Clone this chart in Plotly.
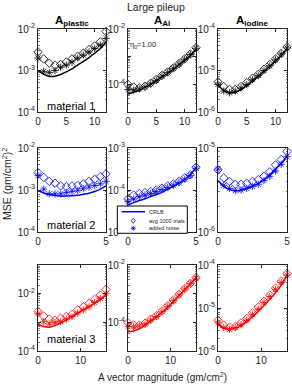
import plotly.graph_objects as go

W, H = 292, 385

# ---------------- data ----------------
x_r1 = [0, 1, 2, 3, 4, 5, 6, 7, 8, 9, 10, 11, 12]
x_r2 = [0, 0.42, 0.83, 1.25, 1.67, 2.08, 2.5, 2.92, 3.33, 3.75, 4.17, 4.58, 5.0]
x_r3 = [0, 1.33, 2.67, 4, 5.33, 6.67, 8, 9.33, 10.67, 12, 13.33, 14.67, 16]

# material 1 (black)
m1_plastic_crlb = [1.0e-3, 8.2e-4, 7.2e-4, 7.3e-4, 8.0e-4, 9.3e-4, 1.1e-3, 1.35e-3, 1.65e-3, 2.05e-3, 2.6e-3, 3.4e-3, 4.8e-3]
m1_plastic_avg = [2.8e-3, 1.9e-3, 1.5e-3, 1.35e-3, 1.4e-3, 1.6e-3, 1.9e-3, 2.2e-3, 2.6e-3, 3.2e-3, 3.9e-3, 4.9e-3, 8.7e-3]
m1_plastic_noise = [2.0e-3, 9.5e-4, 9.0e-4, 1.0e-3, 1.2e-3, 1.35e-3, 1.6e-3, 2.0e-3, 2.35e-3, 2.8e-3, 3.4e-3, 4.1e-3, 5.9e-3]
m1_al_crlb = [4.5e-5, 5.2e-5, 6.2e-5, 7.8e-5, 1.0e-4, 1.35e-4, 1.85e-4, 2.5e-4, 3.5e-4, 5.0e-4, 7.3e-4, 1.1e-3, 1.8e-3]
m1_al_avg = [1.0e-4, 8.0e-5, 7.5e-5, 8.5e-5, 1.1e-4, 1.5e-4, 2.1e-4, 2.8e-4, 3.9e-4, 5.6e-4, 8.3e-4, 1.25e-3, 2.1e-3]
m1_al_noise = [6.5e-5, 6.2e-5, 6.8e-5, 8.0e-5, 1.05e-4, 1.4e-4, 2.0e-4, 2.7e-4, 3.8e-4, 5.4e-4, 8.0e-4, 1.2e-3, 2.0e-3]
m1_iod_crlb = [4.5e-6, 3.3e-6, 2.9e-6, 3.0e-6, 3.5e-6, 4.3e-6, 5.6e-6, 7.2e-6, 9.5e-6, 1.25e-5, 1.7e-5, 2.3e-5, 3.3e-5]
m1_iod_avg = [5.3e-6, 4.1e-6, 3.5e-6, 3.5e-6, 4.1e-6, 5.1e-6, 6.5e-6, 8.1e-6, 1.07e-5, 1.4e-5, 1.9e-5, 2.6e-5, 3.7e-5]
m1_iod_noise = [4.6e-6, 3.2e-6, 2.9e-6, 3.2e-6, 3.8e-6, 4.6e-6, 6.0e-6, 7.6e-6, 1.0e-5, 1.3e-5, 1.8e-5, 2.5e-5, 3.5e-5]

# material 2 (blue)
m2_plastic_crlb = [9.6e-4, 8.5e-4, 7.8e-4, 7.4e-4, 7.2e-4, 7.2e-4, 7.3e-4, 7.5e-4, 7.9e-4, 8.4e-4, 9.2e-4, 1.05e-3, 1.26e-3]
m2_plastic_avg = [2.6e-3, 2.0e-3, 1.6e-3, 1.45e-3, 1.26e-3, 1.2e-3, 1.25e-3, 1.3e-3, 1.4e-3, 1.6e-3, 1.8e-3, 2.1e-3, 2.4e-3]
m2_plastic_noise = [2.2e-3, 1.05e-3, 8.1e-4, 8.1e-4, 8.1e-4, 8.7e-4, 9.2e-4, 9.8e-4, 1.07e-3, 1.17e-3, 1.28e-3, 1.4e-3, 1.6e-3]
m2_al_crlb = [4.4e-5, 5.0e-5, 5.6e-5, 6.2e-5, 7.0e-5, 7.8e-5, 8.8e-5, 1.05e-4, 1.22e-4, 1.45e-4, 1.8e-4, 2.35e-4, 3.4e-4]
m2_al_avg = [6.1e-5, 7.6e-5, 8.3e-5, 8.7e-5, 9.2e-5, 1.0e-4, 1.1e-4, 1.25e-4, 1.4e-4, 1.6e-4, 1.95e-4, 2.3e-4, 3.5e-4]
m2_al_noise = [5.3e-5, 6.1e-5, 6.9e-5, 7.6e-5, 8.3e-5, 9.2e-5, 1.03e-4, 1.15e-4, 1.3e-4, 1.5e-4, 1.8e-4, 2.2e-4, 3.3e-4]
m2_iod_crlb = [4.1e-6, 3.5e-6, 3.2e-6, 3.1e-6, 3.15e-6, 3.3e-6, 3.5e-6, 3.8e-6, 4.2e-6, 4.8e-6, 5.6e-6, 6.6e-6, 8.0e-6]
m2_iod_avg = [5.5e-6, 4.4e-6, 4.0e-6, 3.7e-6, 3.7e-6, 3.8e-6, 4.0e-6, 4.2e-6, 4.6e-6, 5.2e-6, 6.3e-6, 7.3e-6, 9.1e-6]
m2_iod_noise = [5.6e-6, 3.6e-6, 3.3e-6, 3.1e-6, 3.15e-6, 3.3e-6, 3.5e-6, 3.7e-6, 4.1e-6, 4.6e-6, 5.3e-6, 6.4e-6, 7.9e-6]

# material 3 (red)
m3_plastic_crlb = [8.7e-4, 7.2e-4, 6.8e-4, 7.8e-4, 9.5e-4, 1.2e-3, 1.6e-3, 2.1e-3, 2.7e-3, 3.5e-3, 4.7e-3, 6.2e-3, 8.9e-3]
m3_plastic_avg = [2.4e-3, 1.66e-3, 1.3e-3, 1.2e-3, 1.4e-3, 1.6e-3, 1.9e-3, 2.7e-3, 3.5e-3, 4.6e-3, 6.3e-3, 8.9e-3, 1.4e-2]
m3_plastic_noise = [2.0e-3, 1.05e-3, 8.7e-4, 1.0e-3, 1.05e-3, 1.3e-3, 1.6e-3, 2.1e-3, 2.7e-3, 3.5e-3, 4.9e-3, 6.8e-3, 1.0e-2]
m3_al_crlb = [4.7e-5, 5.0e-5, 6.0e-5, 8.0e-5, 1.1e-4, 1.55e-4, 2.2e-4, 3.3e-4, 5.2e-4, 8.5e-4, 1.35e-3, 2.2e-3, 3.5e-3]
m3_al_avg = [9.7e-5, 8.1e-5, 8.0e-5, 9.3e-5, 1.3e-4, 1.7e-4, 2.5e-4, 3.8e-4, 6.0e-4, 9.5e-4, 1.5e-3, 2.3e-3, 3.6e-3]
m3_al_noise = [7.1e-5, 7.0e-5, 7.5e-5, 8.7e-5, 1.2e-4, 1.6e-4, 2.35e-4, 3.6e-4, 5.7e-4, 9.0e-4, 1.45e-3, 2.25e-3, 3.5e-3]
m3_iod_crlb = [4.2e-6, 3.4e-6, 3.2e-6, 3.4e-6, 3.9e-6, 4.8e-6, 6.3e-6, 8.3e-6, 1.15e-5, 1.6e-5, 2.25e-5, 3.4e-5, 5.8e-5]
m3_iod_avg = [5.2e-6, 4.0e-6, 3.6e-6, 3.7e-6, 4.5e-6, 5.7e-6, 7.7e-6, 1.05e-5, 1.44e-5, 2.0e-5, 2.9e-5, 4.2e-5, 6.3e-5]
m3_iod_noise = [4.5e-6, 3.5e-6, 3.2e-6, 3.5e-6, 4.1e-6, 5.2e-6, 7.0e-6, 9.5e-6, 1.35e-5, 1.85e-5, 2.7e-5, 3.9e-5, 5.8e-5]

col_titles = ["<b>A<sub>plastic</sub></b>", "<b>A<sub>Al</sub></b>", "<b>A<sub>iodine</sub></b>"]
row_labels = ["material 1", "material 2", "material 3"]
row_colors = ["#000000", "#0000FF", "#FF0000"]
legend_names = ["CRLB", "avg 1000 trials", "added noise"]

x_ranges = [[0, 12], [0, 5], [0, 16]]
x_ticks = [[0, 5, 10], [0, 5], [0, 10]]
# log10 y ranges per panel
y_ranges = [[[-4, -2], [-5, -2], [-6, -4]],
            [[-4, -2], [-5, -3], [-6, -5]],
            [[-4, -1], [-5, -2], [-6, -4]]]
# labelled decades per panel
y_labelled = [[[-4, -3, -2], [-4, -2], [-6, -5, -4]],
              [[-4, -3, -2], [-5, -4, -3], [-6, -5]],
              [[-4, -2], [-4, -2], [-6, -5, -4]]]

xs = [x_r1, x_r2, x_r3]
data = [
    [(m1_plastic_crlb, m1_plastic_avg, m1_plastic_noise), (m1_al_crlb, m1_al_avg, m1_al_noise), (m1_iod_crlb, m1_iod_avg, m1_iod_noise)],
    [(m2_plastic_crlb, m2_plastic_avg, m2_plastic_noise), (m2_al_crlb, m2_al_avg, m2_al_noise), (m2_iod_crlb, m2_iod_avg, m2_iod_noise)],
    [(m3_plastic_crlb, m3_plastic_avg, m3_plastic_noise), (m3_al_crlb, m3_al_avg, m3_al_noise), (m3_iod_crlb, m3_iod_avg, m3_iod_noise)],
]

# ---------------- layout geometry (pixels) ----------------
cols_px = [(38, 106), (128, 196), (218, 287)]
rows_px = [(29, 112), (148, 232), (265, 351)]


def px(x):
    return x / W


def py(y):
    return 1 - y / H


AX = "#262626"
FONT = "Liberation Sans, Arial, sans-serif"

fig = go.Figure()
layout = dict(width=W, height=H, margin=dict(l=0, r=0, t=0, b=0),
              paper_bgcolor="white", plot_bgcolor="white", showlegend=False,
              template="none", font=dict(family=FONT, color=AX, size=10))

k = 0
for r in range(3):
    for c in range(3):
        k += 1
        xa = "x" if k == 1 else f"x{k}"
        ya = "y" if k == 1 else f"y{k}"
        xkey = "xaxis" if k == 1 else f"xaxis{k}"
        ykey = "yaxis" if k == 1 else f"yaxis{k}"
        lo, hi = y_ranges[r][c]
        decades = list(range(lo, hi + 1))
        tv = [10.0 ** d for d in decades]
        tt = [f"10<sup>{d}</sup>" if d in y_labelled[r][c] else "" for d in decades]
        minor_v = [m * 10.0 ** d for d in range(lo, hi) for m in range(2, 10)]
        layout[xkey] = dict(domain=[px(cols_px[c][0]), px(cols_px[c][1])], anchor=ya,
                            range=x_ranges[r], tickvals=x_ticks[r], ticktext=[str(v) for v in x_ticks[r]],
                            showline=True, linecolor=AX, linewidth=1, mirror="ticks",
                            ticks="inside", ticklen=3, tickcolor=AX, tickwidth=1,
                            showgrid=False, zeroline=False, automargin=False,
                            tickfont=dict(size=10, color=AX, family=FONT))
        layout[ykey] = dict(domain=[py(rows_px[r][1]), py(rows_px[r][0])], anchor=xa,
                            type="log", range=[lo, hi], tickvals=tv, ticktext=tt,
                            showline=True, linecolor=AX, linewidth=1, mirror="ticks",
                            ticks="inside", ticklen=3, tickcolor=AX, tickwidth=1,
                            minor=dict(tickmode="array", tickvals=minor_v, ticks="inside",
                                       ticklen=1.5, tickcolor=AX, tickwidth=0.6, showgrid=False),
                            showgrid=False, zeroline=False, automargin=False,
                            tickfont=dict(size=10, color=AX, family=FONT))
        col = row_colors[r]
        crlb, avg, noise = data[r][c]
        fig.add_trace(go.Scatter(x=xs[r], y=crlb, mode="lines", line=dict(color=col, width=1.5, shape="spline"),
                                 xaxis=xa, yaxis=ya, name=legend_names[0], cliponaxis=False))
        fig.add_trace(go.Scatter(x=xs[r], y=avg, mode="markers",
                                 marker=dict(symbol="diamond-open", size=6.5, color=col, line=dict(color=col, width=0.8)),
                                 xaxis=xa, yaxis=ya, name=legend_names[1], cliponaxis=False))
        fig.add_trace(go.Scatter(x=xs[r], y=noise, mode="markers",
                                 marker=dict(symbol="asterisk-open", size=6, color=col, line=dict(color=col, width=0.8)),
                                 xaxis=xa, yaxis=ya, name=legend_names[2], cliponaxis=False))

annotations = []
# main title
annotations.append(dict(text="Large pileup", x=px(155.5), y=py(7), xref="paper", yref="paper",
                        showarrow=False, font=dict(size=10.5, color=AX, family=FONT), xanchor="center", yanchor="middle"))
# column titles
for c in range(3):
    cx = (cols_px[c][0] + cols_px[c][1]) / 2
    annotations.append(dict(text=col_titles[c], x=px(cx), y=py(21), xref="paper", yref="paper",
                            showarrow=False, font=dict(size=11.5, color="#000000", family=FONT),
                            xanchor="center", yanchor="middle"))
# material labels
mat_y = [106, 225, 339]
for r in range(3):
    annotations.append(dict(text=row_labels[r], x=px(45), y=py(mat_y[r]), xref="paper", yref="paper",
                            showarrow=False, font=dict(size=11, color="#000000", family=FONT),
                            xanchor="left", yanchor="middle"))
# eta label
annotations.append(dict(text="\u03b7<sub>0</sub>=1.00", x=px(128), y=py(45), xref="paper", yref="paper",
                        showarrow=False, font=dict(size=7.5, color=AX, family=FONT), xanchor="left", yanchor="middle"))
# axis titles
annotations.append(dict(text="A vector magnitude (gm/cm<sup>2</sup>)", x=px(162), y=py(377), xref="paper", yref="paper",
                        showarrow=False, font=dict(size=10, color=AX, family=FONT), xanchor="center", yanchor="middle"))
annotations.append(dict(text="MSE (gm/cm<sup>2</sup>)<sup>2</sup>", x=px(7), y=py(184), xref="paper", yref="paper",
                        showarrow=False, textangle=-90, font=dict(size=10.5, color=AX, family=FONT),
                        xanchor="center", yanchor="middle"))

# manual legend (in the material-2 / A_Al panel)
shapes = []
lx0, lx1, ly0, ly1 = 117.3, 187.3, 206, 233.3
shapes.append(dict(type="rect", xref="paper", yref="paper", x0=px(lx0), x1=px(lx1), y0=py(ly1), y1=py(ly0),
                   fillcolor="white", line=dict(color="#000000", width=1), layer="above"))
lc = row_colors[1]
shapes.append(dict(type="line", xref="paper", yref="paper", x0=px(121.7), x1=px(145), y0=py(211.7), y1=py(211.7),
                   line=dict(color=lc, width=1.5), layer="above"))
cx, cy, s = 133.3, 220.7, 2.6
shapes.append(dict(type="path", xref="paper", yref="paper",
                   path=f"M {px(cx)},{py(cy - s)} L {px(cx + s * 0.8)},{py(cy)} L {px(cx)},{py(cy + s)} L {px(cx - s * 0.8)},{py(cy)} Z",
                   line=dict(color=lc, width=0.8), layer="above"))
cx, cy, s = 133.3, 228.3, 2.4
ast = (f"M {px(cx - s)},{py(cy)} L {px(cx + s)},{py(cy)} "
       f"M {px(cx)},{py(cy - s)} L {px(cx)},{py(cy + s)} "
       f"M {px(cx - s * 0.7)},{py(cy - s * 0.7)} L {px(cx + s * 0.7)},{py(cy + s * 0.7)} "
       f"M {px(cx - s * 0.7)},{py(cy + s * 0.7)} L {px(cx + s * 0.7)},{py(cy - s * 0.7)}")
shapes.append(dict(type="path", xref="paper", yref="paper", path=ast, line=dict(color=lc, width=0.8), layer="above"))
for name, yy in zip(legend_names, [211.7, 220.5, 228.3]):
    annotations.append(dict(text=name, x=px(147.3), y=py(yy), xref="paper", yref="paper", showarrow=False,
                            font=dict(size=5.5, color=AX, family=FONT), xanchor="left", yanchor="middle"))

layout["annotations"] = annotations
layout["shapes"] = shapes
fig.update_layout(**layout)
fig.write_html("out.html", config={"displayModeBar": False, "staticPlot": True},
               post_script="document.body.style.margin='0';document.body.style.padding='0';"
                           "document.body.style.overflow='hidden';")
